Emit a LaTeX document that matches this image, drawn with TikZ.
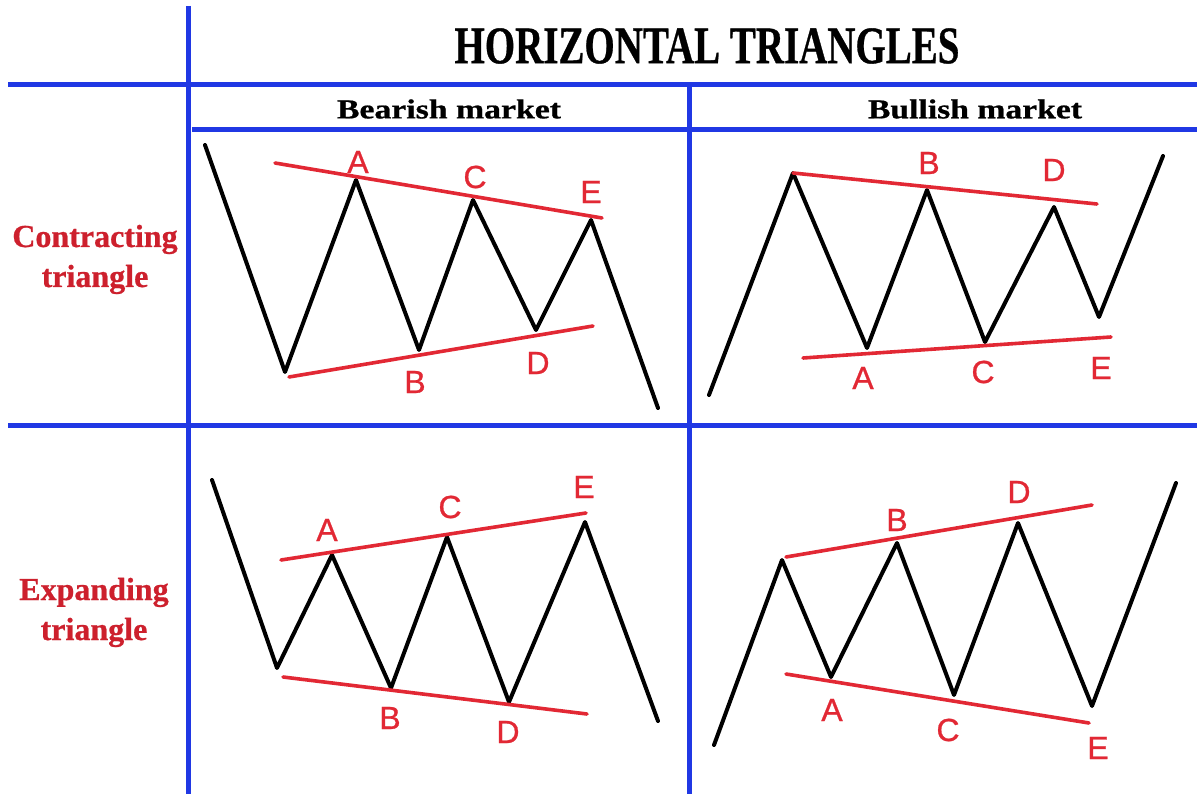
\documentclass[tikz,border=0pt]{standalone}
\usepackage{fontspec}
\setmainfont{Liberation Serif}[BoldFeatures={FakeBold=0.7}]
\newfontfamily\lblfont[FakeBold=0.8]{Liberation Sans}
\definecolor{gridblue}{RGB}{32,56,228}
\definecolor{tred}{RGB}{205,32,45}
\definecolor{lred}{RGB}{226,40,52}
\begin{document}
\begin{tikzpicture}[x=1pt,y=-1pt,
  gridline/.style={gridblue, line width=5pt},
  wave/.style={black, line width=4pt, line join=round, line cap=round},
  trend/.style={lred, line width=3.6pt, line cap=round},
  pt/.style={font=\lblfont\fontsize{32}{32}\selectfont, text=lred, inner sep=0pt},
  side/.style={font=\bfseries\fontsize{32}{32}\selectfont, text=tred, inner sep=0pt, anchor=base}]
\useasboundingbox (0,0) rectangle (1197,794);
\fill[white] (0,0) rectangle (1197,794);

% grid
\coordinate (v1t) at (188,6);   \coordinate (v1b) at (188,794);
\coordinate (h1l) at (8,85);    \coordinate (h1r) at (1197,85);
\coordinate (h2l) at (192,130); \coordinate (h2r) at (1197,130);
\coordinate (v2t) at (689,85);  \coordinate (v2b) at (689,794);
\coordinate (h3l) at (8,425);   \coordinate (h3r) at (1197,425);
\draw[gridline] (v1t) -- (v1b);
\draw[gridline] (h1l) -- (h1r);
\draw[gridline] (h2l) -- (h2r);
\draw[gridline] (v2t) -- (v2b);
\draw[gridline] (h3l) -- (h3r);

% headers
\node[inner sep=0pt] (title) at (707,46) {\resizebox{505pt}{35pt}{\bfseries HORIZONTAL TRIANGLES}};
\node[inner sep=0pt] (bear) at (449,109) {\resizebox{224pt}{19pt}{\bfseries Bearish market}};
\node[inner sep=0pt] (bull) at (975,109) {\resizebox{214pt}{19pt}{\bfseries Bullish market}};

% row labels
\node[side] (c1) at (95,247) {Contracting};
\node[side] (c2) at (95,287) {triangle};
\node[side] (e1) at (94,600) {Expanding};
\node[side] (e2) at (94,640) {triangle};

% ---------- top-left: contracting, bearish
\coordinate (tl0) at (205,145); \coordinate (tl1) at (285,372);
\coordinate (tlA) at (356,180); \coordinate (tlB) at (419,350);
\coordinate (tlC) at (473,200); \coordinate (tlD) at (536,330);
\coordinate (tlE) at (591,220); \coordinate (tl9) at (658,408);
\draw[wave] (tl0) -- (tl1) -- (tlA) -- (tlB) -- (tlC) -- (tlD) -- (tlE) -- (tl9);
\coordinate (tlu1) at (275,163); \coordinate (tlu2) at (602,218);
\coordinate (tld1) at (289,377); \coordinate (tld2) at (593,326);
\draw[trend] (tlu1) -- (tlu2);
\draw[trend] (tld1) -- (tld2);
\node[pt] (ltlA) at (358,162) {A};
\node[pt] (ltlC) at (475,177) {C};
\node[pt] (ltlE) at (591,192) {E};
\node[pt] (ltlB) at (415,382) {B};
\node[pt] (ltlD) at (538,363) {D};

% ---------- top-right: contracting, bullish
\coordinate (tr0) at (709,395); \coordinate (tr1) at (793,173);
\coordinate (trA) at (867,348); \coordinate (trB) at (927,190);
\coordinate (trC) at (985,342); \coordinate (trD) at (1054,207);
\coordinate (trE) at (1099,317); \coordinate (tr9) at (1163,156);
\draw[wave] (tr0) -- (tr1) -- (trA) -- (trB) -- (trC) -- (trD) -- (trE) -- (tr9);
\coordinate (tru1) at (793,173); \coordinate (tru2) at (1097,204);
\coordinate (trd1) at (803,358); \coordinate (trd2) at (1111,337);
\draw[trend] (tru1) -- (tru2);
\draw[trend] (trd1) -- (trd2);
\node[pt] (ltrB) at (929,163) {B};
\node[pt] (ltrD) at (1054,170) {D};
\node[pt] (ltrA) at (863,378) {A};
\node[pt] (ltrC) at (983,372) {C};
\node[pt] (ltrE) at (1101,368) {E};

% ---------- bottom-left: expanding, bearish
\coordinate (bl0) at (212,480); \coordinate (bl1) at (277,668);
\coordinate (blA) at (332,555); \coordinate (blB) at (391,688);
\coordinate (blC) at (447,537); \coordinate (blD) at (509,702);
\coordinate (blE) at (585,522); \coordinate (bl9) at (658,721);
\draw[wave] (bl0) -- (bl1) -- (blA) -- (blB) -- (blC) -- (blD) -- (blE) -- (bl9);
\coordinate (blu1) at (281,560); \coordinate (blu2) at (586,513);
\coordinate (bld1) at (283,677); \coordinate (bld2) at (587,714);
\draw[trend] (blu1) -- (blu2);
\draw[trend] (bld1) -- (bld2);
\node[pt] (lblA) at (327,530) {A};
\node[pt] (lblC) at (450,507) {C};
\node[pt] (lblE) at (584,487) {E};
\node[pt] (lblB) at (390,718) {B};
\node[pt] (lblD) at (508,732) {D};

% ---------- bottom-right: expanding, bullish
\coordinate (br0) at (714,745); \coordinate (br1) at (782,560);
\coordinate (brA) at (831,677); \coordinate (brB) at (897,543);
\coordinate (brC) at (954,695); \coordinate (brD) at (1018,523);
\coordinate (brE) at (1092,706); \coordinate (br9) at (1176,483);
\draw[wave] (br0) -- (br1) -- (brA) -- (brB) -- (brC) -- (brD) -- (brE) -- (br9);
\coordinate (bru1) at (786,557); \coordinate (bru2) at (1092,505);
\coordinate (brd1) at (786,674); \coordinate (brd2) at (1089,723);
\draw[trend] (bru1) -- (bru2);
\draw[trend] (brd1) -- (brd2);
\node[pt] (lbrB) at (897,520) {B};
\node[pt] (lbrD) at (1019,492) {D};
\node[pt] (lbrA) at (832,710) {A};
\node[pt] (lbrC) at (948,730) {C};
\node[pt] (lbrE) at (1098,748) {E};
\end{tikzpicture}
\end{document}
